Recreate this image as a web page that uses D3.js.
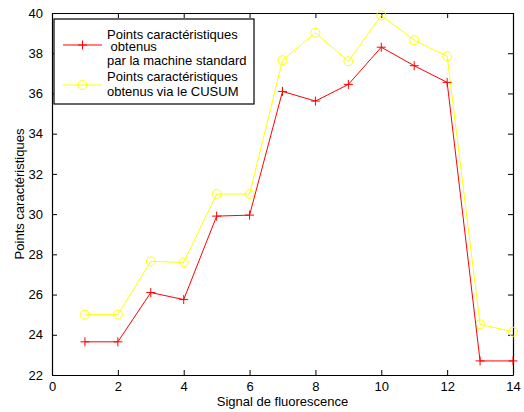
<!DOCTYPE html>
<html>
<head>
<meta charset="utf-8">
<script src="https://cdn.jsdelivr.net/npm/d3@7"></script>
<style>
  body { margin: 0; background: #fff; }
  text { font-family: "Liberation Sans", Arial, sans-serif; }
</style>
</head>
<body>
<div class="chart"></div>
<script>
// Signal de fluorescence vs points caractéristiques (MATLAB style plot)
var xValues = [1, 2, 3, 4, 5, 6, 7, 8, 9, 10, 11, 12, 13, 14];
var standardValues = [23.65, 23.65, 26.1, 25.75, 29.9, 29.95, 36.1, 35.62, 36.45, 38.3, 37.38, 36.55, 22.7, 22.7];
var cusumValues = [25.0, 25.0, 27.65, 27.6, 31.0, 31.0, 37.65, 39.02, 37.6, 39.88, 38.65, 37.85, 24.52, 24.15];
var xTicks = [0, 2, 4, 6, 8, 10, 12, 14];
var yTicks = [22, 24, 26, 28, 30, 32, 34, 36, 38, 40];

var svgWidth = 524;
var svgHeight = 412;
var margin = { top: 13, right: 11, bottom: 37, left: 52 };
var width = svgWidth - margin.left - margin.right;
var height = svgHeight - margin.top - margin.bottom;

var svg = d3.select(".chart")
  .append("svg")
  .attr("width", svgWidth)
  .attr("height", svgHeight);

var chart = svg.append("g")
  .attr("transform", "translate(" + margin.left + "," + margin.top + ")");

var x = d3.scaleLinear().domain([0, 14]).range([0, width]);
var y = d3.scaleLinear().domain([22, 40]).range([height, 0]);

// axes with inward ticks on all four sides
function styleAxis(g) {
  g.selectAll("path").attr("stroke", "#000").attr("stroke-width", 1.2);
  g.selectAll("line").attr("stroke", "#000");
  g.selectAll("text").attr("font-size", 13).attr("fill", "#000")
    .style("font-family", "Liberation Sans, Arial, sans-serif");
}

chart.append("g")
  .attr("transform", "translate(0," + height + ")")
  .call(d3.axisBottom(x).tickValues(xTicks).tickSizeInner(-5).tickSizeOuter(0).tickPadding(7))
  .call(styleAxis);

chart.append("g")
  .call(d3.axisTop(x).tickValues(xTicks).tickSizeInner(-5).tickSizeOuter(0).tickFormat(""))
  .call(styleAxis);

chart.append("g")
  .call(d3.axisLeft(y).tickValues(yTicks).tickSizeInner(-5).tickSizeOuter(0).tickPadding(9))
  .call(styleAxis);

chart.append("g")
  .attr("transform", "translate(" + width + ",0)")
  .call(d3.axisRight(y).tickValues(yTicks).tickSizeInner(-5).tickSizeOuter(0).tickFormat(""))
  .call(styleAxis);

var line = d3.line()
  .x(function(d, i) { return x(xValues[i]); })
  .y(function(d) { return y(d); });

// CUSUM series (yellow, circles)
chart.append("path")
  .datum(cusumValues)
  .attr("d", line)
  .attr("fill", "none")
  .attr("stroke", "#ffff00")
  .attr("stroke-width", 1);

chart.selectAll(".cusum")
  .data(cusumValues)
  .enter().append("circle")
  .attr("class", "cusum")
  .attr("cx", function(d, i) { return x(xValues[i]); })
  .attr("cy", function(d) { return y(d); })
  .attr("r", 4.5)
  .attr("fill", "none")
  .attr("stroke", "#ffff00")
  .attr("stroke-width", 1);

// standard machine series (red, plus)
chart.append("path")
  .datum(standardValues)
  .attr("d", line)
  .attr("fill", "none")
  .attr("stroke", "#ff0000")
  .attr("stroke-width", 1);

chart.selectAll(".std")
  .data(standardValues)
  .enter().append("path")
  .attr("class", "std")
  .attr("transform", function(d, i) { return "translate(" + x(xValues[i]) + "," + y(d) + ")"; })
  .attr("d", "M-4.5,0H4.5M0,-4.5V4.5")
  .attr("fill", "none")
  .attr("stroke", "#ff0000")
  .attr("stroke-width", 1);

// legend
var legend = svg.append("g").attr("transform", "translate(54,19)");
legend.append("rect")
  .attr("x", 0).attr("y", 0)
  .attr("width", 200).attr("height", 85)
  .attr("fill", "#fff")
  .attr("stroke", "#000")
  .attr("stroke-width", 1.2);

var legendText = [
  { t: "Points caractéristiques", y: 20 },
  { t: " obtenus", y: 32 },
  { t: "par la machine standard", y: 46 },
  { t: "Points caractéristiques", y: 62 },
  { t: "obtenus via le CUSUM", y: 77 }
];
legend.selectAll(".lt")
  .data(legendText)
  .enter().append("text")
  .attr("class", "lt")
  .attr("x", 53)
  .attr("y", function(d) { return d.y; })
  .attr("font-size", 13)
  .style("white-space", "pre")
  .attr("xml:space", "preserve")
  .text(function(d) { return d.t; });

legend.append("line")
  .attr("x1", 9).attr("x2", 48).attr("y1", 26).attr("y2", 26)
  .attr("stroke", "#ff0000");
legend.append("path")
  .attr("transform", "translate(28.5,26)")
  .attr("d", "M-4.5,0H4.5M0,-4.5V4.5")
  .attr("stroke", "#ff0000");
legend.append("line")
  .attr("x1", 9).attr("x2", 48).attr("y1", 66).attr("y2", 66)
  .attr("stroke", "#ffff00");
legend.append("circle")
  .attr("cx", 28.5).attr("cy", 66).attr("r", 4.5)
  .attr("fill", "none")
  .attr("stroke", "#ffff00");

// axis labels
svg.append("text")
  .attr("x", margin.left + width / 2)
  .attr("y", 406)
  .attr("text-anchor", "middle")
  .attr("font-size", 13)
  .text("Signal de fluorescence");

svg.append("text")
  .attr("transform", "translate(24," + (margin.top + height / 2) + ") rotate(-90)")
  .attr("text-anchor", "middle")
  .attr("font-size", 13)
  .text("Points caractéristiques");
</script>
</body>
</html>
